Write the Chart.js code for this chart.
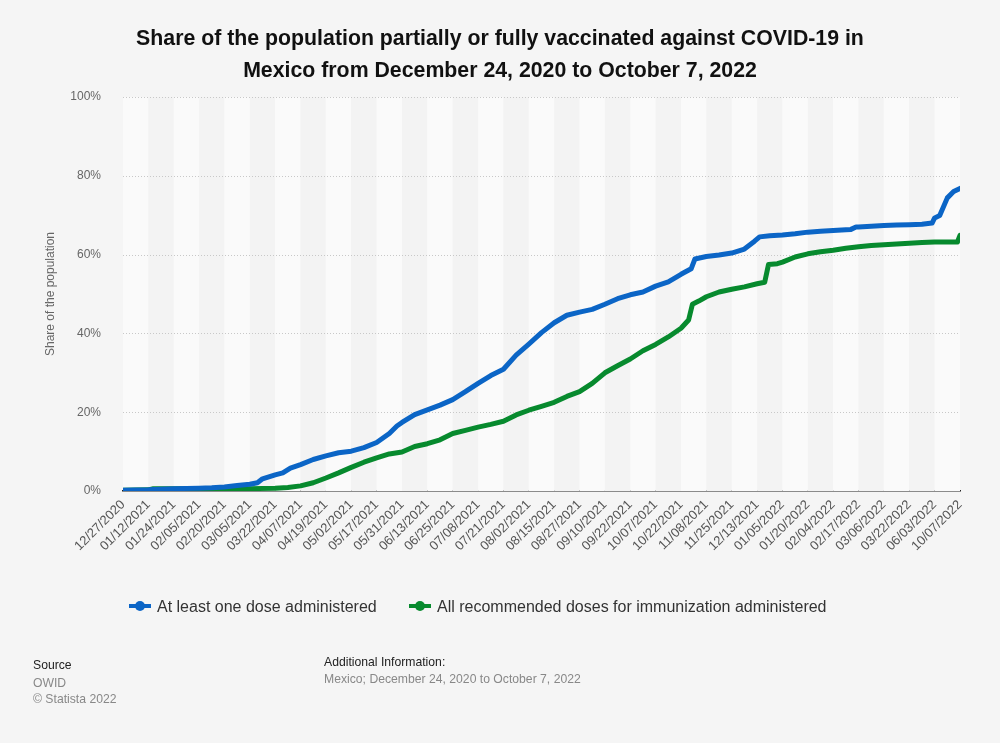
<!DOCTYPE html>
<html>
<head>
<meta charset="utf-8">
<script src="https://cdn.jsdelivr.net/npm/chart.js@4"></script>
<style>
  html, body { margin: 0; padding: 0; background: #f5f5f5; }
  body { width: 1000px; height: 743px; position: relative; overflow: hidden; font-family: "Liberation Sans", Arial, sans-serif; }
  #wrap { position: absolute; left: 0; top: 0; width: 1000px; height: 743px; }
  .title { position: absolute; left: 0; width: 1000px; text-align: center; font-weight: bold; font-size: 21.3px; line-height: 24px; color: #111; }
  .legend { position: absolute; top: 597px; font-size: 16px; line-height: 20px; color: #333; white-space: nowrap; }
  .mk { display: inline-block; position: relative; width: 22px; height: 10px; vertical-align: middle; margin-right: 6px; top: -2px; }
  .mk::before { content: ""; position: absolute; left: 0; right: 0; top: 3px; height: 4px; background: var(--c); }
  .mk::after { content: ""; position: absolute; left: 6px; top: 0; width: 10px; height: 10px; border-radius: 50%; background: var(--c); }
  .foot { position: absolute; font-size: 12.2px; white-space: nowrap; }
</style>
</head>
<body>
<div id="wrap"><canvas id="c" width="1000" height="743"></canvas></div>
<div class="title" style="top:26px;">Share of the population partially or fully vaccinated against COVID-19 in</div>
<div class="title" style="top:58px;">Mexico from December 24, 2020 to October 7, 2022</div>
<div class="legend" style="left:129px;"><span class="mk" style="--c:#0b65c6"></span>At least one dose administered</div>
<div class="legend" style="left:409px;"><span class="mk" style="--c:#078a2e"></span>All recommended doses for immunization administered</div>
<div class="foot" style="left:33px; top:658px; color:#222;">Source</div>
<div class="foot" style="left:33px; top:676px; color:#888;">OWID</div>
<div class="foot" style="left:33px; top:692px; color:#888;">© Statista 2022</div>
<div class="foot" style="left:324px; top:655px; color:#222;">Additional Information:</div>
<div class="foot" style="left:324px; top:672px; color:#888;">Mexico; December 24, 2020 to October 7, 2022</div>
<script>
const tickLabels = ["12/27/2020","01/12/2021","01/24/2021","02/05/2021","02/20/2021","03/05/2021","03/22/2021","04/07/2021","04/19/2021","05/02/2021","05/17/2021","05/31/2021","06/13/2021","06/25/2021","07/08/2021","07/21/2021","08/02/2021","08/15/2021","08/27/2021","09/10/2021","09/22/2021","10/07/2021","10/22/2021","11/08/2021","11/25/2021","12/13/2021","01/05/2022","01/20/2022","02/04/2022","02/17/2022","03/06/2022","03/22/2022","06/03/2022","10/07/2022"];

// positions along the axis, in units of tick-label intervals
const firstDosePos = [0,1,2,3,3.5,4,4.5,5,5.3,5.5,6,6.3,6.6,7,7.5,8,8.5,9,9.5,10,10.5,10.8,11,11.5,12,12.5,13,13.5,14,14.5,15,15.5,16,16.5,17,17.5,18,18.5,19,19.5,20,20.5,21,21.5,22,22.4,22.55,23,23.5,24,24.5,24.9,25.1,25.5,26,26.5,27,27.5,28,28.5,28.7,28.9,29,29.5,30,30.5,31,31.5,31.9,32,32.2,32.5,32.75,33];
const firstDose = [0.2,0.3,0.6,0.7,0.8,1.0,1.4,1.7,2.1,3.1,4.1,4.6,5.8,6.7,8.0,8.9,9.7,10.1,11.0,12.3,14.6,16.5,17.4,19.4,20.6,21.8,23.2,25.2,27.3,29.3,30.9,34.5,37.3,40.2,42.7,44.6,45.4,46.1,47.4,48.8,49.8,50.5,52.0,53.1,55.0,56.4,58.9,59.5,59.9,60.4,61.4,63.4,64.5,64.8,65.0,65.3,65.7,65.9,66.1,66.3,66.4,67.0,67.0,67.2,67.4,67.5,67.6,67.7,68.0,69.3,69.9,74.4,76.0,76.8];

const fullDosePos = [0,1,1.2,2,3,4,5,6,6.5,7,7.5,8,8.5,9,9.5,10,10.5,11,11.5,12,12.5,13,13.5,14,14.5,15,15.5,16,16.5,17,17.5,18,18.5,19,19.5,20,20.5,21,21.5,22,22.3,22.45,22.7,23,23.5,24,24.5,25,25.3,25.45,25.8,26,26.5,27,27.5,28,28.5,29,29.5,30,30.5,31,31.5,32,32.5,32.9,33];
const fullDose = [0.2,0.3,0.6,0.6,0.6,0.6,0.6,0.7,0.9,1.3,2.1,3.3,4.6,6.0,7.3,8.4,9.4,9.9,11.3,12.0,13.0,14.6,15.4,16.2,16.9,17.7,19.3,20.5,21.5,22.5,24.0,25.2,27.3,30.0,31.8,33.5,35.6,37.2,39.1,41.3,43.4,47.4,48.2,49.3,50.5,51.2,51.8,52.6,53.0,57.5,57.7,58.1,59.4,60.2,60.7,61.1,61.6,62.0,62.3,62.5,62.7,62.9,63.1,63.2,63.2,63.2,64.9];

const yTicks = [0,20,40,60,80,100];

const toXY = (pos, vals) => pos.map((p, i) => ({x: p, y: vals[i]}));

const stripes = {
  id: 'stripes',
  beforeDatasetsDraw(chart) {
    const {ctx, chartArea: a, scales: {x}} = chart;
    ctx.save();
    for (let i = 0; i < tickLabels.length - 1; i++) {
      const x0 = x.getPixelForValue(i), x1 = x.getPixelForValue(i + 1);
      ctx.fillStyle = i % 2 === 0 ? '#fafafa' : '#f3f3f3';
      ctx.fillRect(x0, a.top, x1 - x0, a.bottom - a.top);
    }
    const y = chart.scales.y;
    ctx.strokeStyle = '#c8c8c8';
    ctx.lineWidth = 1;
    ctx.setLineDash([1, 2]);
    yTicks.forEach(t => {
      if (t === 0) return;
      const py = Math.round(y.getPixelForValue(t)) + 0.5;
      ctx.beginPath(); ctx.moveTo(a.left, py); ctx.lineTo(a.right, py); ctx.stroke();
    });
    ctx.restore();
  }
};

new Chart(document.getElementById('c'), {
  type: 'line',
  data: {
    datasets: [
      { label: 'At least one dose administered', data: toXY(firstDosePos, firstDose), borderColor: '#0b65c6', backgroundColor: '#0b65c6', borderWidth: 5, pointRadius: 0, tension: 0, borderJoinStyle: 'round', borderCapStyle: 'round', order: 1 },
      { label: 'All recommended doses for immunization administered', data: toXY(fullDosePos, fullDose), borderColor: '#078a2e', backgroundColor: '#078a2e', borderWidth: 5, pointRadius: 0, tension: 0, borderJoinStyle: 'round', borderCapStyle: 'round', order: 2 }
    ]
  },
  options: {
    responsive: false,
    animation: false,
    devicePixelRatio: 1,
    layout: { padding: { left: 0, right: 40, top: 97, bottom: 0 } },
    plugins: { legend: { display: false }, title: { display: false }, tooltip: { enabled: false } },
    scales: {
      x: {
        type: 'linear', min: 0, max: 33,
        afterBuildTicks: s => { s.ticks = tickLabels.map((_, i) => ({value: i})); },
        afterFit: s => { s.height = 252; },
        grid: { display: false, drawTicks: false },
        border: { display: true, color: '#222', width: 1.5 },
        ticks: { autoSkip: false, maxRotation: 45, minRotation: 45, padding: 6, color: '#555', font: { family: 'Liberation Sans', size: 13 }, callback: v => tickLabels[v] }
      },
      y: {
        min: 0, max: 100,
        afterBuildTicks: s => { s.ticks = yTicks.map(v => ({value: v})); },
        afterFit: s => { s.width = 123; },
        grid: { display: false, drawTicks: false },
        border: { display: false },
        ticks: { padding: 22, color: '#666', font: { family: 'Liberation Sans', size: 12 }, callback: v => v + '%' },
        title: { display: true, text: 'Share of the population', color: '#666', font: { family: 'Liberation Sans', size: 12 }, padding: { top: 43, bottom: 0 } }
      }
    }
  },
  plugins: [stripes]
});
</script>
</body>
</html>
